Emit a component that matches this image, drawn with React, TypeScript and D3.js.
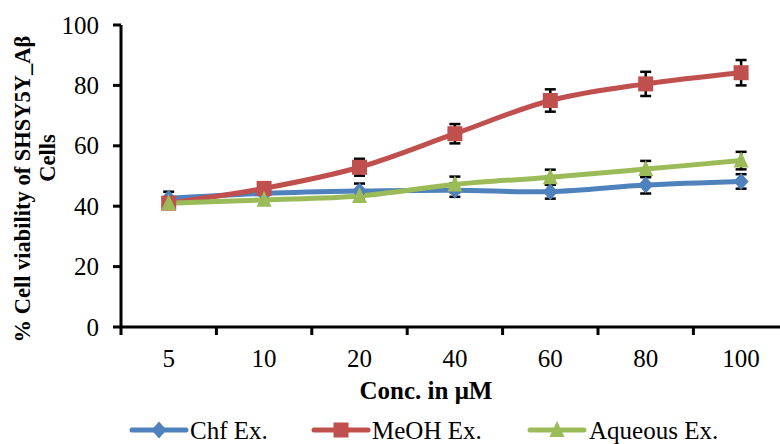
import React from "react";
import * as d3 from "d3";

const categories = ["5", "10", "20", "40", "60", "80", "100"];
const yTicks = [0, 20, 40, 60, 80, 100];
const chfValues = [42.6, 44.2, 45.0, 45.3, 44.8, 47.0, 48.2];
const chfErrors = [2.2, 2.0, 2.5, 2.2, 2.3, 2.8, 2.4];
const meohValues = [41.0, 45.9, 52.9, 64.0, 75.0, 80.5, 84.2];
const meohErrors = [1.5, 1.8, 2.8, 3.2, 3.7, 4.0, 4.2];
const aqValues = [41.0, 42.1, 43.4, 47.2, 49.6, 52.3, 55.1];
const aqErrors = [1.5, 1.5, 1.5, 2.6, 2.5, 2.7, 2.9];

const series = [
  { name: "Chf Ex.", values: chfValues, errors: chfErrors, color: "#4F81BD", marker: "diamond" },
  { name: "MeOH Ex.", values: meohValues, errors: meohErrors, color: "#C0504D", marker: "square" },
  { name: "Aqueous Ex.", values: aqValues, errors: aqErrors, color: "#9BBB59", marker: "triangle" },
];

const FONT = "'Liberation Serif', 'Times New Roman', serif";

function Marker({ type, x, y, color }: { type: string; x: number; y: number; color: string }) {
  if (type === "diamond") {
    return <path d={`M${x},${y - 8.5}L${x + 7.5},${y}L${x},${y + 8.5}L${x - 7.5},${y}Z`} fill={color} />;
  }
  if (type === "square") {
    return <rect x={x - 7.5} y={y - 7.5} width={15} height={15} fill={color} />;
  }
  return <path d={`M${x},${y - 9}L${x + 7.5},${y + 7}L${x - 7.5},${y + 7}Z`} fill={color} />;
}

export default function App() {
  const width = 780;
  const height = 444;
  const x0 = 121;
  const band = 95.4;
  const x = d3
    .scaleBand<string>()
    .domain(categories)
    .range([x0, x0 + band * categories.length]);
  const y = d3.scaleLinear().domain([0, 100]).range([327, 25]);
  const cx = (c: string) => (x(c) as number) + x.bandwidth() / 2;

  const line = d3
    .line<number>()
    .x((_, i) => cx(categories[i]))
    .y((v) => y(v))
    .curve(d3.curveCatmullRom.alpha(0.5));

  const legendItems = [
    { lx: 132, tx: 190 },
    { lx: 314, tx: 372 },
    { lx: 530, tx: 589 },
  ];
  const ts = { fontFamily: FONT };

  return (
    <svg
      width={width}
      height={height}
      style={{ position: "absolute", left: 0, top: 0, background: "#fff", fontFamily: FONT }}
    >
      <rect width={width} height={height} fill="#fff" />
      {/* Y axis */}
      <line x1={x0} x2={x0} y1={y(100)} y2={y(0)} stroke="#000" strokeWidth={3} />
      {yTicks.map((t) => (
        <g key={t}>
          <line x1={x0 - 8} x2={x0} y1={y(t)} y2={y(t)} stroke="#000" strokeWidth={3} />
          <text x={99} y={y(t)} dy="0.34em" textAnchor="end" fontSize={25} style={ts}>
            {t}
          </text>
        </g>
      ))}
      {/* X axis */}
      <line x1={x0 - 1.5} x2={780} y1={y(0)} y2={y(0)} stroke="#000" strokeWidth={3} />
      {categories.map((c) => (
        <g key={c}>
          <line
            x1={x(c) as number}
            x2={x(c) as number}
            y1={y(0)}
            y2={y(0) + 8}
            stroke="#000"
            strokeWidth={3}
          />
          <text x={cx(c)} y={367} textAnchor="middle" fontSize={25} style={ts}>
            {c}
          </text>
        </g>
      ))}
      <text x={426} y={399} textAnchor="middle" fontSize={25} fontWeight="bold" style={ts}>
        Conc. in μM
      </text>
      <text
        transform="translate(22,189) rotate(-90)"
        textAnchor="middle"
        dy="0.35em"
        fontSize={22.5}
        fontWeight="bold"
        style={ts}
      >
        % Cell viability of SHSY5Y_Aβ
      </text>
      <text
        transform="translate(47,158) rotate(-90)"
        textAnchor="middle"
        dy="0.35em"
        fontSize={22.5}
        fontWeight="bold"
        style={ts}
      >
        Cells
      </text>

      {/* Error bars */}
      {series.map((s) =>
        s.values.map((v, i) => {
          const px = cx(categories[i]);
          const top = y(v + s.errors[i]);
          const bot = y(v - s.errors[i]);
          return (
            <g key={s.name + i} stroke="#000" strokeWidth={2.5}>
              <line x1={px} x2={px} y1={top} y2={bot} />
              <line x1={px - 5.5} x2={px + 5.5} y1={top} y2={top} />
              <line x1={px - 5.5} x2={px + 5.5} y1={bot} y2={bot} />
            </g>
          );
        })
      )}
      {/* Lines */}
      {series.map((s) => (
        <path
          key={s.name}
          d={line(s.values) || ""}
          fill="none"
          stroke={s.color}
          strokeWidth={5}
          strokeLinecap="round"
          strokeLinejoin="round"
        />
      ))}
      {/* Markers */}
      {series.map((s) =>
        s.values.map((v, i) => (
          <Marker key={s.name + "m" + i} type={s.marker} x={cx(categories[i])} y={y(v)} color={s.color} />
        ))
      )}

      {/* Legend */}
      {series.map((s, k) => (
        <g key={s.name + "leg"}>
          <line
            x1={legendItems[k].lx}
            x2={legendItems[k].lx + 54}
            y1={430}
            y2={430}
            stroke={s.color}
            strokeWidth={5}
            strokeLinecap="round"
          />
          <Marker type={s.marker} x={legendItems[k].lx + 27} y={430} color={s.color} />
          <text x={legendItems[k].tx} y={439} fontSize={25} style={ts}>
            {s.name}
          </text>
        </g>
      ))}
    </svg>
  );
}
